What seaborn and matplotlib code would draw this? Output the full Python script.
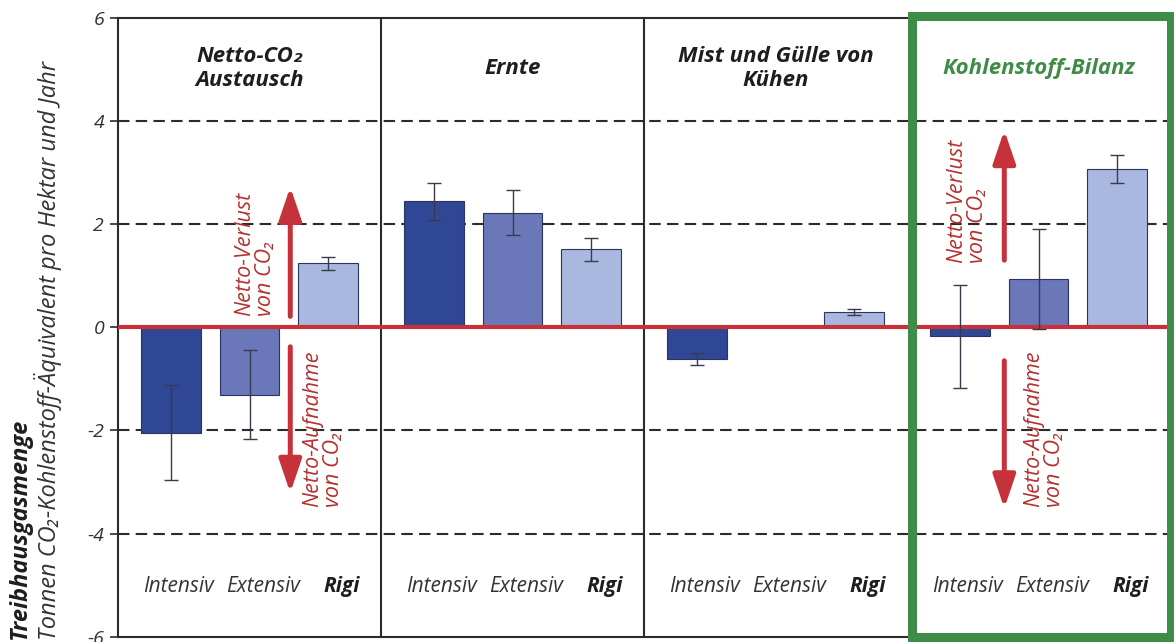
import matplotlib
matplotlib.use("Agg")
import matplotlib.pyplot as plt
import matplotlib.patches as mpatches
import pandas as pd
import seaborn as sns

# --- data -----------------------------------------------------------------
bereiche = ["Netto-CO₂\nAustausch", "Ernte", "Mist und Gülle von\nKühen", "Kohlenstoff-Bilanz"]
systeme = ["Intensiv", "Extensiv", "Rigi"]

intensiv = [-2.05, 2.44, -0.62, -0.18]
extensiv = [-1.31, 2.22, 0.0, 0.93]
rigi = [1.24, 1.51, 0.29, 3.07]

fehler_intensiv = [0.92, 0.36, 0.12, 0.99]
fehler_extensiv = [0.86, 0.44, 0.0, 0.97]
fehler_rigi = [0.13, 0.22, 0.055, 0.27]

yticks = [-6, -4, -2, 0, 2, 4, 6]
ytick_labels = ["-6", "-4", "-2", "0", "2", "4", "6"]

# --- style ----------------------------------------------------------------
sns.set_theme(style="white")
plt.rcParams["font.family"] = ["Open Sans", "DejaVu Sans"]

farben = ["#2f4795", "#6a77b8", "#a8b8de"]
rot = "#c6323a"
rot_text = "#b5302f"
gruen = "#3f8c48"
dunkel = "#2b2b2b"
FS = 15

df = pd.DataFrame({
    "Bereich": [b for b in bereiche for _ in systeme],
    "System": systeme * len(bereiche),
    "Wert": [v for trio in zip(intensiv, extensiv, rigi) for v in trio],
})

W, H = 1174, 642
fig = plt.figure(figsize=(W / 100, H / 100), dpi=100)
ax = fig.add_axes([118 / W, 1 - 636.7 / H, (1170 - 118) / W, (636.7 - 17.7) / H])

# dashed reference lines behind the bars
for yv in (-4, -2, 2, 4):
    ax.axhline(yv, color=dunkel, lw=1.5, ls=(0, (5.5, 3)), zorder=0)

sns.barplot(
    data=df, x="Bereich", y="Wert", hue="System",
    order=bereiche, hue_order=systeme, palette=farben,
    width=0.9, gap=0.24, errorbar=None, legend=False,
    edgecolor="#2c3560", linewidth=0.8, saturation=1, ax=ax, zorder=2,
)

# error bars from the bar containers
fehler = [fehler_intensiv, fehler_extensiv, fehler_rigi]
werte = [intensiv, extensiv, rigi]
for cont, errs, vals in zip(ax.containers, fehler, werte):
    for bar, e, v in zip(cont, errs, vals):
        if e <= 0:
            continue
        xc = bar.get_x() + bar.get_width() / 2
        ax.errorbar(xc, v, yerr=e, fmt="none", ecolor="#3a3a4a",
                    elinewidth=1.0, capsize=5, capthick=1.0, zorder=4)

# zero line
ax.axhline(0, color=rot, lw=3, zorder=3)

# panel dividers
for xv in (0.5, 1.5):
    ax.axvline(xv, color=dunkel, lw=1.5, zorder=1)

ax.set_xlim(-0.5, 3.5)
ax.set_ylim(-6, 6)
ax.set_yticks(yticks)
ax.set_yticklabels(ytick_labels, fontsize=14, style="italic", color="#333333")
ax.tick_params(axis="y", direction="out", length=6, width=1.2, color=dunkel, pad=4, left=True)
ax.set_xticks([])
ax.set_xlabel("")
ax.set_ylabel("")
for side in ("left", "top", "bottom"):
    ax.spines[side].set_color(dunkel)
    ax.spines[side].set_linewidth(1.5)
ax.spines["right"].set_visible(False)

# panel titles
for i, b in enumerate(bereiche):
    ax.text(i, 5.02, b, ha="center", va="center", fontsize=16,
            fontweight="bold", style="italic", linespacing=1.2,
            color=gruen if i == 3 else "#1e1e1e", zorder=5)

# category labels inside each panel
for i in range(len(bereiche)):
    ax.text(i - 0.27, -5.02, systeme[0], ha="center", va="center", fontsize=FS,
            style="italic", color="#333333")
    ax.text(i + 0.05, -5.02, systeme[1], ha="center", va="center", fontsize=FS,
            style="italic", color="#333333")
    ax.text(i + 0.35, -5.02, systeme[2], ha="center", va="center", fontsize=FS,
            style="italic", fontweight="bold", color="#1e1e1e")

# direction arrows with annotations
def pfeil(x, y0, y1):
    ax.annotate("", xy=(x, y1), xytext=(x, y0),
                arrowprops=dict(arrowstyle="-|>,head_width=0.34,head_length=1.0",
                                lw=3.6, color=rot, shrinkA=0, shrinkB=0,
                                mutation_scale=20),
                zorder=5)

def pfeiltext(x, y, s):
    ax.text(x, y, s, rotation=90, ha="center", va="bottom", multialignment="left",
            fontsize=15.5, style="italic", color=rot_text, linespacing=1.0, zorder=6)

pfeil(0.155, 0.21, 2.72)
pfeil(0.155, -0.38, -3.21)
pfeiltext(0.02, 0.22, "Netto-Verlust\nvon CO₂")
pfeiltext(0.28, -3.48, "Netto-Aufnahme\nvon CO₂")

pfeil(2.87, 1.30, 3.82)
pfeil(2.87, -0.65, -3.51)
pfeiltext(2.73, 1.25, "Netto-Verlust\nvon CO₂")
pfeiltext(3.02, -3.48, "Netto-Aufnahme\nvon CO₂")

# highlight frame around the balance panel
ax.add_patch(mpatches.Rectangle((2.52, -6.0), 0.985, 12.04, fill=False,
                                edgecolor=gruen, lw=6.5, clip_on=False, zorder=7))

# y-axis title
fig.text(20 / W, 2 / H, "Treibhausgasmenge", rotation=90, ha="center", va="bottom",
         fontsize=17, fontweight="bold", style="italic", color="#1e1e1e")
fig.text(48 / W, 2 / H, "Tonnen CO₂-Kohlenstoff-Äquivalent pro Hektar und Jahr",
         rotation=90, ha="center", va="bottom", fontsize=17, style="italic", color="#333333")

fig.savefig("out.png", dpi=100, facecolor="white")
